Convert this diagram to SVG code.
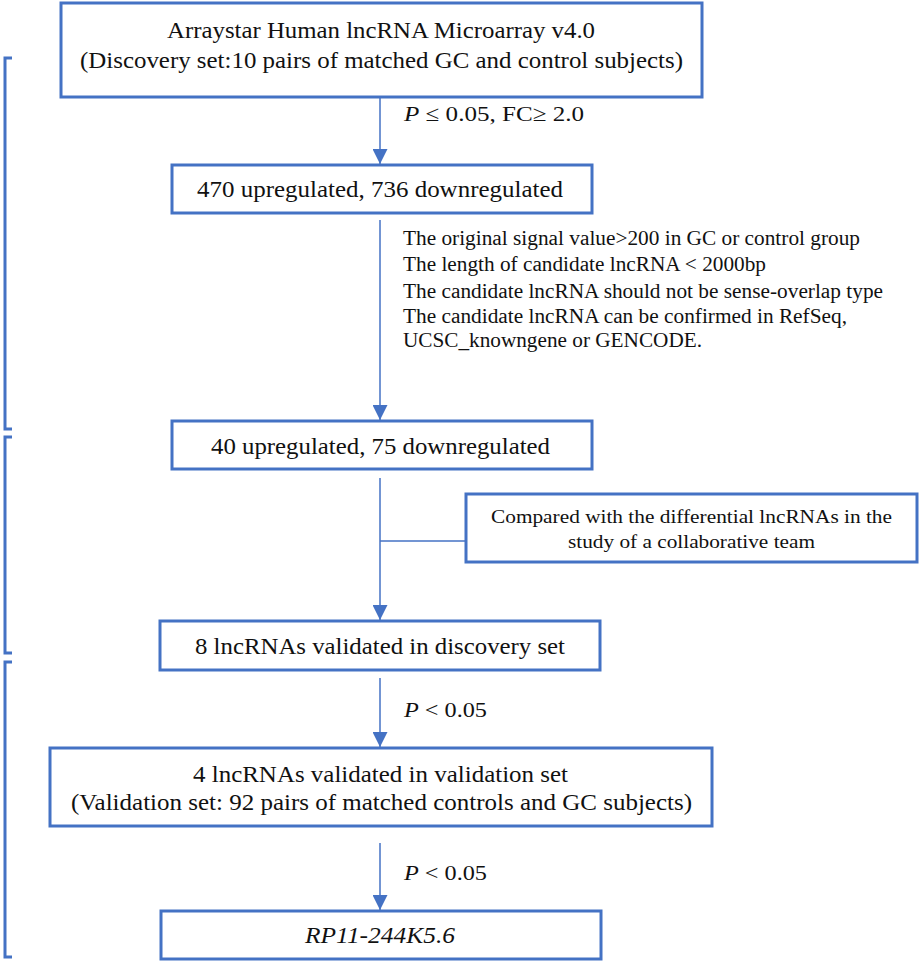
<svg xmlns="http://www.w3.org/2000/svg" width="921" height="963" viewBox="0 0 921 963">
<defs>
<marker id="ah" markerWidth="16" markerHeight="15" refX="15" refY="7.5" orient="auto" markerUnits="userSpaceOnUse">
<path d="M0,0 L15,7.5 L0,15 Z" fill="#4472C4"/>
</marker>
<style>
.box{fill:#fff;stroke:#4472C4;stroke-width:3}
.t{font-family:"Liberation Serif","Times New Roman",serif;font-size:23px;fill:#111;text-anchor:middle}
.tc{font-family:"Liberation Serif","Times New Roman",serif;font-size:19px;fill:#111;text-anchor:middle}
.s{font-family:"Liberation Serif","Times New Roman",serif;font-size:20px;fill:#111}
.p{font-family:"Liberation Serif","Times New Roman",serif;font-size:22px;fill:#111}
.c{stroke:#4472C4;stroke-width:1.5;fill:none}
.br{stroke:#4472C4;stroke-width:3;fill:none}
</style>
</defs>
<rect width="921" height="963" fill="#fff"/>
<g id="brackets">
<path class="br" d="M12,58 H5 V429 H12"/>
<path class="br" d="M12,437 H5 V653 H12"/>
<path class="br" d="M12,662 H5 V957 H12"/>
</g>
<g id="connectors">
<line class="c" x1="380" y1="97" x2="380" y2="164" marker-end="url(#ah)"/>
<line class="c" x1="380" y1="220" x2="380" y2="420" marker-end="url(#ah)"/>
<line class="c" x1="380" y1="478" x2="380" y2="620" marker-end="url(#ah)"/>
<line class="c" x1="380" y1="541" x2="466" y2="541"/>
<line class="c" x1="380" y1="678" x2="380" y2="747" marker-end="url(#ah)"/>
<line class="c" x1="380" y1="843" x2="380" y2="910" marker-end="url(#ah)"/>
</g>
<g id="labels">
<text class="p" x="404" y="121" textLength="180" lengthAdjust="spacingAndGlyphs"><tspan font-style="italic">P</tspan> ≤ 0.05, FC≥ 2.0</text>
<text class="s" x="403" y="245" textLength="457" lengthAdjust="spacingAndGlyphs">The original signal value&gt;200 in GC or control group</text>
<text class="s" x="403" y="271" textLength="363" lengthAdjust="spacingAndGlyphs">The length of candidate lncRNA &lt; 2000bp</text>
<text class="s" x="403" y="298" textLength="480" lengthAdjust="spacingAndGlyphs">The candidate lncRNA should not be sense-overlap type</text>
<text class="s" x="403" y="323" textLength="444" lengthAdjust="spacingAndGlyphs">The candidate lncRNA can be confirmed in RefSeq,</text>
<text class="s" x="403" y="347" textLength="299" lengthAdjust="spacingAndGlyphs">UCSC_knowngene or GENCODE.</text>
<text class="p" x="404" y="717" textLength="83" lengthAdjust="spacingAndGlyphs"><tspan font-style="italic">P</tspan> &lt; 0.05</text>
<text class="p" x="404" y="880" textLength="83" lengthAdjust="spacingAndGlyphs"><tspan font-style="italic">P</tspan> &lt; 0.05</text>
</g>
<g id="n1">
<rect class="box" x="61" y="3" width="641" height="94"/>
<text class="t" x="381" y="38" textLength="428" lengthAdjust="spacingAndGlyphs">Arraystar Human lncRNA Microarray v4.0</text>
<text class="t" x="381.5" y="68" textLength="603" lengthAdjust="spacingAndGlyphs">(Discovery set:10 pairs of matched GC and control subjects)</text>
</g>
<g id="n2">
<rect class="box" x="172" y="165" width="420" height="48"/>
<text class="t" x="380" y="197" textLength="366" lengthAdjust="spacingAndGlyphs">470 upregulated, 736 downregulated</text>
</g>
<g id="n3">
<rect class="box" x="172" y="421" width="420" height="48"/>
<text class="t" x="380.5" y="454" textLength="339" lengthAdjust="spacingAndGlyphs">40 upregulated, 75 downregulated</text>
</g>
<g id="n4">
<rect class="box" x="466" y="494" width="451" height="68"/>
<text class="tc" x="691.5" y="523" textLength="401" lengthAdjust="spacingAndGlyphs">Compared with the differential lncRNAs in the</text>
<text class="tc" x="691.5" y="548" textLength="247" lengthAdjust="spacingAndGlyphs">study of a collaborative team</text>
</g>
<g id="n5">
<rect class="box" x="160" y="621" width="440" height="49"/>
<text class="t" x="380" y="654" textLength="370" lengthAdjust="spacingAndGlyphs">8 lncRNAs validated in discovery set</text>
</g>
<g id="n6">
<rect class="box" x="50" y="748" width="662" height="78"/>
<text class="t" x="380.5" y="782" textLength="375" lengthAdjust="spacingAndGlyphs">4 lncRNAs validated in validation set</text>
<text class="t" x="381.5" y="810" textLength="621" lengthAdjust="spacingAndGlyphs">(Validation set: 92 pairs of matched controls and GC subjects)</text>
</g>
<g id="n7">
<rect class="box" x="161" y="911" width="440" height="48"/>
<text class="t" x="380" y="943" font-style="italic" textLength="150" lengthAdjust="spacingAndGlyphs">RP11-244K5.6</text>
</g>
</svg>
